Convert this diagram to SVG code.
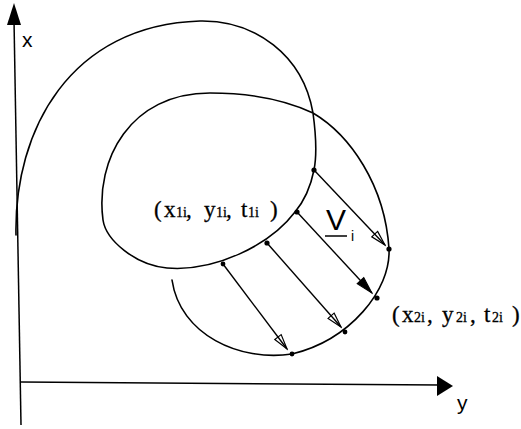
<svg xmlns="http://www.w3.org/2000/svg" width="521" height="429" viewBox="0 0 521 429">
<style>
.ln{fill:none;stroke:#000;stroke-width:1.6;stroke-linecap:round;stroke-linejoin:round}
.ax{fill:none;stroke:#000;stroke-width:1.5}
.ar{fill:none;stroke:#000;stroke-width:1.4}
.dot{fill:#000}
.lab{font-family:"Liberation Serif","Times New Roman",serif;fill:#000;stroke:#000;stroke-width:0.3}
.sub{font-size:14px}
.axl{font-family:"Liberation Sans",Arial,sans-serif;font-size:21px;fill:#000}
</style>
<defs>
<marker id="ah" markerUnits="userSpaceOnUse" markerWidth="18" markerHeight="12" refX="16" refY="5" orient="auto">
<path d="M1,1 L16,5 L1,9 Z" fill="none" stroke="#000" stroke-width="1.2"/>
</marker>
<marker id="ahf" markerUnits="userSpaceOnUse" markerWidth="20" markerHeight="12" refX="18" refY="5.5" orient="auto">
<path d="M1,1 L18,5.5 L1,10 Z" fill="#000" stroke="#000" stroke-width="1"/>
</marker>
</defs>
<rect width="521" height="429" fill="#fff"/>
<g id="axes">
<line class="ax" x1="14" y1="20" x2="21" y2="425"/>
<polygon points="14,3 7,25 21,25" fill="#000"/>
<line class="ax" x1="21" y1="382" x2="440" y2="385"/>
<polygon points="453,386 437,376 437,396" fill="#000"/>
<text class="axl" x="22" y="47">x</text>
<text class="axl" x="457" y="410">y</text>
</g>
<g id="fronts">
<path class="ln" d="M16,235 C14,130 70,25 200,21 C255,20 303,55 313,113 C316,135 317,155 314,170 C311,185 305,200 295,212 C270,245 215,272 167,268 C135,265 106,240 103,220 C95,160 130,93 210,93 C250,93 285,100 313,113 C350,135 385,185 389,249 C391,290 350,340 292,354 C240,362 180,335 172,280"/>
</g>
<g id="connectors">
<line class="ar" x1="314" y1="170" x2="385" y2="245" marker-end="url(#ah)"/>
<line class="ar" x1="297" y1="212" x2="372" y2="293" marker-end="url(#ahf)"/>
<line class="ar" x1="267" y1="243" x2="341" y2="327" marker-end="url(#ah)"/>
<line class="ar" x1="223" y1="264" x2="287" y2="349" marker-end="url(#ah)"/>
</g>
<g id="points">
<circle class="dot" cx="314" cy="170" r="2.6"/>
<circle class="dot" cx="297" cy="212" r="2.6"/>
<circle class="dot" cx="267" cy="243" r="2.6"/>
<circle class="dot" cx="223" cy="264" r="2.4"/>
<circle class="dot" cx="389" cy="249" r="2.6"/>
<circle class="dot" cx="377" cy="298" r="2.6"/>
<circle class="dot" cx="345" cy="332" r="2.4"/>
<circle class="dot" cx="292" cy="354" r="2.4"/>
</g>
<g id="label-v">
<text x="326" y="230" font-family="'Liberation Sans',Arial,sans-serif" font-size="30" fill="#000">V</text>
<line x1="325" y1="236" x2="347" y2="236" stroke="#000" stroke-width="1.5"/>
<text x="351" y="241" font-family="'Liberation Sans',Arial,sans-serif" font-size="14" fill="#000">i</text>
</g>
<g id="label-1">
<text class="lab" y="217" font-size="23"><tspan x="154">(</tspan><tspan x="164">x</tspan><tspan x="176" class="sub">1i</tspan><tspan x="186">,</tspan><tspan x="204">y</tspan><tspan x="216" class="sub">1i</tspan><tspan x="226">,</tspan><tspan x="241">t</tspan><tspan x="248" class="sub">1i</tspan><tspan x="270">)</tspan></text>
</g>
<g id="label-2">
<text class="lab" y="322" font-size="23"><tspan x="392">(</tspan><tspan x="402">x</tspan><tspan x="414" class="sub">2i</tspan><tspan x="427">,</tspan><tspan x="442">y</tspan><tspan x="456" class="sub">2i</tspan><tspan x="470">,</tspan><tspan x="484">t</tspan><tspan x="492" class="sub">2i</tspan><tspan x="512">)</tspan></text>
</g>
</svg>
